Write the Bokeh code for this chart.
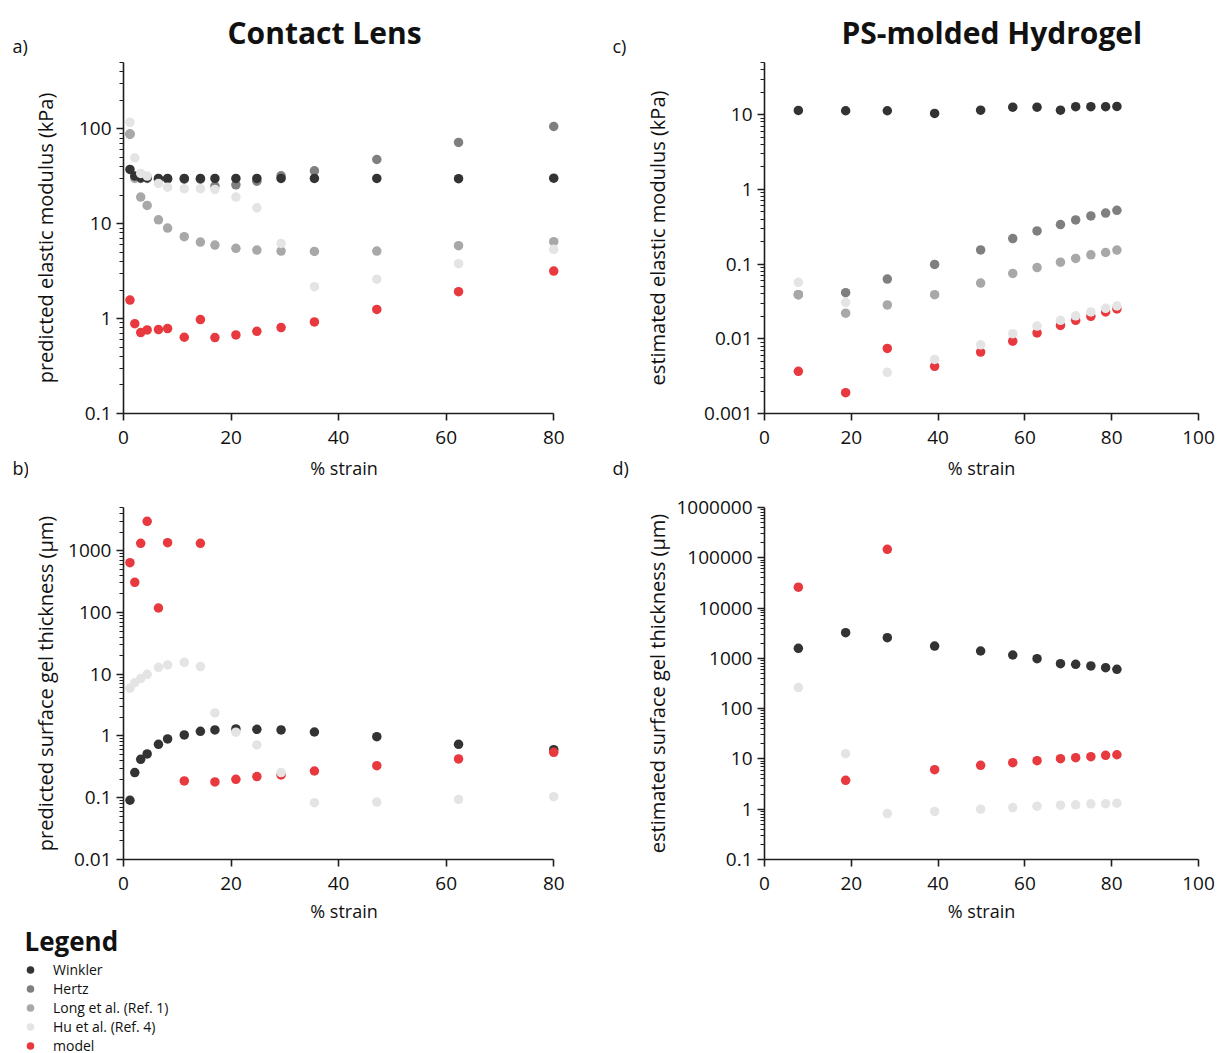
import math
from bokeh.plotting import figure
from bokeh.models import (FixedTicker, Label, Legend, LegendItem, Range1d,
                          CustomJSTickFormatter)
from bokeh.layouts import column, row
from bokeh.embed import file_html
from bokeh.resources import INLINE

# ---------------- data ----------------
SERIES_NAMES = ["Winkler", "Hertz", "Long et al. (Ref. 1)", "Hu et al. (Ref. 4)", "model"]
SERIES_COLORS = ["#333333", "#7f7f7f", "#a8a8a8", "#e4e4e4", "#e8393f"]
PANEL_TITLES = ["Contact Lens", "PS-molded Hydrogel"]
PANEL_LETTERS = ["a)", "b)", "c)", "d)"]

# Contact lens (% strain)
CL_STRAIN = [1.2, 2.1, 3.2, 4.4, 6.5, 8.2, 11.3, 14.3, 17.0, 20.9, 24.8, 29.3, 35.5, 47.1, 62.3, 80.0]
A_WINKLER = [37.3, 31.8, 30.5, 30.5, 30.0, 30.0, 30.0, 30.0, 30.0, 30.0, 30.0, 30.0, 30.0, 30.0, 29.8, 30.2]
A_HERTZ = [88.0, 31.0, 30.0, 30.0, 29.5, 29.5, 29.5, 29.5, 24.9, 25.7, 28.1, 32.0, 36.1, 47.5, 71.8, 105.8]
A_LONG = [88.0, 30.0, 19.1, 15.6, 11.0, 9.0, 7.3, 6.4, 5.96, 5.5, 5.28, 5.15, 5.1, 5.15, 5.87, 6.46]
A_HU = [117.0, 49.5, 33.9, 31.8, 26.6, 24.3, 23.4, 23.4, 23.0, 19.1, 14.7, 6.2, 2.17, 2.6, 3.79, 5.37]
A_MODEL = [1.57, 0.885, 0.713, 0.76, 0.766, 0.785, 0.636, 0.976, 0.631, 0.673, 0.735, 0.804, 0.922, 1.25, 1.92, 3.17]

B_WINKLER = [0.091, 0.255, 0.419, 0.511, 0.733, 0.894, 1.04, 1.19, 1.25, 1.30, 1.28, 1.25, 1.16, 0.975, 0.733, 0.60]
B_HU = [5.9, 7.3, 8.5, 9.96, 12.9, 14.1, 15.6, 13.3, 2.36, 1.15, 0.715, 0.255, 0.083, 0.085, 0.094, 0.104]
B_MODEL = [640, 307, 1316, 2985, 118, 1349, 0.187, 1316, 0.18, 0.199, 0.22, 0.234, 0.271, 0.331, 0.425, 0.544]

# PS-molded hydrogel (% strain)
PS_STRAIN = [7.8, 18.7, 28.3, 39.2, 49.8, 57.2, 62.8, 68.2, 71.7, 75.2, 78.6, 81.2]
C_WINKLER = [11.4, 11.3, 11.3, 10.4, 11.5, 12.6, 12.6, 11.5, 12.8, 12.8, 12.8, 12.9]
C_HERTZ = [0.039, 0.0415, 0.063, 0.099, 0.155, 0.22, 0.278, 0.338, 0.39, 0.441, 0.483, 0.525]
C_LONG = [0.039, 0.022, 0.0284, 0.039, 0.0558, 0.075, 0.090, 0.106, 0.119, 0.133, 0.143, 0.154]
C_HU = [0.057, 0.0308, 0.00356, 0.0053, 0.0083, 0.0117, 0.0148, 0.0177, 0.0203, 0.0229, 0.0256, 0.0275]
C_MODEL = [0.00367, 0.0019, 0.00743, 0.00428, 0.00664, 0.0093, 0.012, 0.0151, 0.0177, 0.020, 0.0229, 0.0251]

D_WINKLER = [1581, 3236, 2573, 1758, 1400, 1167, 987, 785, 762, 706, 654, 606]
D_HU = [262, 12.7, 0.82, 0.90, 1.0, 1.08, 1.15, 1.2, 1.22, 1.28, 1.29, 1.32]
D_MODEL = [26000, 3.76, 147000, 6.12, 7.45, 8.41, 9.22, 10.1, 10.6, 11.1, 11.8, 12.1]

# ticks
CL_XTICKS = [0, 20, 40, 60, 80]
PS_XTICKS = [0, 20, 40, 60, 80, 100]
A_YTICKS = [0.1, 1, 10, 100]
A_YLABELS = ["0.1", "1", "10", "100"]
B_YTICKS = [0.01, 0.1, 1, 10, 100, 1000]
B_YLABELS = ["0.01", "0.1", "1", "10", "100", "1000"]
C_YTICKS = [0.001, 0.01, 0.1, 1, 10]
C_YLABELS = ["0.001", "0.01", "0.1", "1", "10"]
D_YTICKS = [0.1, 1, 10, 100, 1000, 10000, 100000, 1000000]
D_YLABELS = ["0.1", "1", "10", "100", "1000", "10000", "100000", "1000000"]

FONT = "Open Sans"
TEXT = "#111111"
AXIS = "#1e1e1e"
DOT = 9.5

PAGE_W = 1219
ROW1_H, ROW2_H = 491, 438
STRIP_L_W, STRIP_M_W = 28, 40
AB_W = 600 - STRIP_L_W
CD_W = PAGE_W - 600 - STRIP_M_W


def minor_ticks(lo, hi):
    out = []
    for k in range(math.floor(math.log10(lo)), math.ceil(math.log10(hi)) + 1):
        for m in range(2, 10):
            v = m * 10.0 ** k
            if lo <= v <= hi:
                out.append(v)
    return out


def make_panel(w, h, mbl, mbr, mbt, mbb, xr, xbounds, yr, xticks, yticks, ylabels,
               xlabel, ylabel, ylab_standoff, xlab_standoff):
    p = figure(width=w, height=h, x_range=Range1d(*xr), y_range=Range1d(*yr),
               y_axis_type="log", output_backend="svg", toolbar_location=None,
               min_border_left=mbl, min_border_right=mbr, min_border_top=mbt,
               min_border_bottom=mbb)
    p.grid.visible = False
    p.outline_line_color = None
    p.background_fill_color = "white"
    p.border_fill_color = "white"

    xa = p.xaxis[0]
    ya = p.yaxis[0]
    xa.ticker = FixedTicker(ticks=xticks)
    xa.bounds = xbounds
    ya.ticker = FixedTicker(ticks=yticks, minor_ticks=minor_ticks(*yr))
    ya.formatter = CustomJSTickFormatter(
        args=dict(t=yticks, l=ylabels),
        code="const i = t.indexOf(tick); return i >= 0 ? l[i] : String(tick);")
    for ax in (xa, ya):
        ax.axis_line_color = AXIS
        ax.axis_line_width = 1.6
        ax.major_tick_line_color = AXIS
        ax.major_tick_line_width = 1.6
        ax.major_tick_out = 7
        ax.major_tick_in = 0
        ax.major_label_text_font = FONT
        ax.major_label_text_font_size = "19px"
        ax.major_label_text_color = TEXT
        ax.axis_label_text_font = FONT
        ax.axis_label_text_font_style = "normal"
        ax.axis_label_text_color = TEXT
    xa.major_label_standoff = 10
    ya.major_label_standoff = 5
    xa.axis_label_text_font_size = "18px"
    ya.axis_label_text_font_size = "20px"
    xa.minor_tick_line_color = None
    ya.minor_tick_line_color = AXIS
    ya.minor_tick_line_width = 1.2
    ya.minor_tick_out = 4
    ya.minor_tick_in = 0
    xa.axis_label = xlabel
    ya.axis_label = ylabel
    ya.axis_label_standoff = ylab_standoff
    xa.axis_label_standoff = xlab_standoff
    return p


def set_title(p, text, offset):
    p.title.text = text
    p.title.align = "left"
    p.title.offset = offset
    p.title.standoff = 19
    p.title.text_font = FONT
    p.title.text_font_size = "30px"
    p.title.text_font_style = "bold"
    p.title.text_color = TEXT


def add_series(p, x, ys_colors):
    for y, c in ys_colors:
        p.scatter(x, y, size=DOT, fill_color=c, line_color=None)


def text_strip(w, h, entries):
    """A blank figure whose data units are pixels; entries = (x, y_from_top, text)."""
    s = figure(width=w, height=h, x_range=Range1d(0, w), y_range=Range1d(0, h),
               output_backend="svg", toolbar_location=None,
               x_axis_location=None, y_axis_location=None,
               min_border_left=0, min_border_right=0, min_border_top=0, min_border_bottom=0)
    s.grid.visible = False
    s.outline_line_color = None
    for x, ytop, t in entries:
        s.add_layout(Label(x=x, y=h - ytop, text=t, text_font=FONT, text_font_size="18px",
                           text_baseline="middle", text_align="left", text_color=TEXT))
    return s


W, H, L, U, M = SERIES_COLORS  # winkler, hertz, long, hu, model colours
LEFT_A = 122 - STRIP_L_W

# ---------- panel a ----------
pa = make_panel(AB_W, ROW1_H, LEFT_A, AB_W - LEFT_A - 442, 60,
                ROW1_H - 60 - 353, (0, 82), (0, 80), (0.1, 500),
                CL_XTICKS, A_YTICKS, A_YLABELS, "% strain",
                "predicted elastic modulus (kPa)", 17, 9)
add_series(pa, CL_STRAIN, [(A_HERTZ, H), (A_LONG, L), (A_WINKLER, W), (A_MODEL, M), (A_HU, U)])
set_title(pa, PANEL_TITLES[0], 104)

# ---------- panel c ----------
pc = make_panel(CD_W, ROW1_H, 124, 21, 60, ROW1_H - 60 - 353, (0, 100), (0, 100),
                (0.001, 50), PS_XTICKS, C_YTICKS, C_YLABELS, "% strain",
                "estimated elastic modulus (kPa)", 30, 9)
add_series(pc, PS_STRAIN, [(C_HERTZ, H), (C_LONG, L), (C_WINKLER, W), (C_MODEL, M), (C_HU, U)])
set_title(pc, PANEL_TITLES[1], 77)

# ---------- panel b ----------
B_TOP = 507 - ROW1_H
pb = make_panel(AB_W, ROW2_H, LEFT_A, AB_W - LEFT_A - 442, B_TOP,
                ROW2_H - B_TOP - 352, (0, 82), (0, 80),
                (0.01, 5000), CL_XTICKS, B_YTICKS, B_YLABELS, "% strain",
                "predicted surface gel thickness (\u03bcm)", 6, 6)
add_series(pb, CL_STRAIN, [(B_WINKLER, W), (B_MODEL, M), (B_HU, U)])

# ---------- panel d ----------
pd_ = make_panel(CD_W, ROW2_H, 124, 21, B_TOP, ROW2_H - B_TOP - 352, (0, 100),
                 (0, 100), (0.1, 1000000), PS_XTICKS, D_YTICKS, D_YLABELS, "% strain",
                 "estimated surface gel thickness (\u03bcm)", 2, 6)
add_series(pd_, PS_STRAIN, [(D_WINKLER, W), (D_MODEL, M), (D_HU, U)])

# ---------- panel letters ----------
STRIP_H = ROW1_H + ROW2_H
strip_l = text_strip(STRIP_L_W, STRIP_H, [(12, 45.5, PANEL_LETTERS[0]), (12, 467, PANEL_LETTERS[1])])
strip_m = text_strip(STRIP_M_W, STRIP_H, [(12, 45.5, PANEL_LETTERS[2]), (12, 467, PANEL_LETTERS[3])])

# ---------- legend ----------
LEG_H = 1053 - STRIP_H
LEG_W = 600
LEG_LEFT = 18
ROWS_H = 5 * 19
pl = figure(width=LEG_W, height=LEG_H, x_range=Range1d(1000, 1001), y_range=Range1d(1000, 1001),
            output_backend="svg", toolbar_location=None,
            x_axis_location=None, y_axis_location=None,
            min_border_left=LEG_LEFT, min_border_right=0, min_border_top=0, min_border_bottom=0)
pl.extra_x_ranges = {"px": Range1d(0, LEG_W - LEG_LEFT)}
pl.extra_y_ranges = {"px": Range1d(0, LEG_H)}
pl.grid.visible = False
pl.outline_line_color = None
items = []
for name, col, ys in zip(SERIES_NAMES, SERIES_COLORS, [A_WINKLER, A_HERTZ, A_LONG, A_HU, A_MODEL]):
    r = pl.scatter(CL_STRAIN, ys, size=DOT, fill_color=col, line_color=None)
    items.append(LegendItem(label=name, renderers=[r]))
leg = Legend(items=items, location=(0, LEG_H - 31 - ROWS_H),
             border_line_color=None, background_fill_alpha=0,
             padding=0, margin=0, spacing=0,
             glyph_width=24, glyph_height=19, label_height=19, label_standoff=11,
             label_text_font=FONT, label_text_font_size="14px", label_text_color=TEXT)
pl.add_layout(leg)
pl.add_layout(Label(x=6, y=LEG_H - 11, x_range_name="px", y_range_name="px", text="Legend",
                    text_font=FONT, text_font_size="26px", text_font_style="bold",
                    text_baseline="middle", text_align="left", text_color=TEXT))

layout = column(row(strip_l, column(pa, pb), strip_m, column(pc, pd_)), pl)
open("out.html", "w").write(file_html(layout, INLINE))
